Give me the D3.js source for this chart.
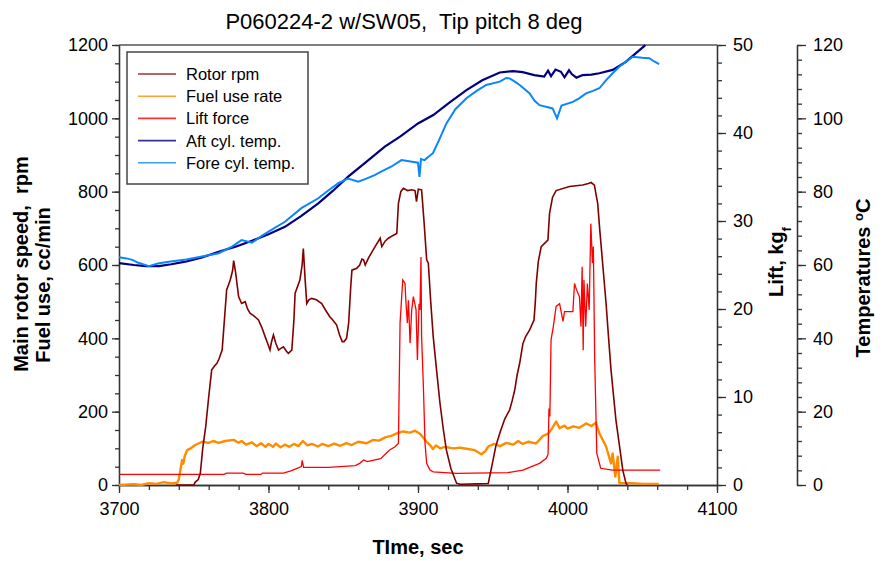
<!DOCTYPE html>
<html>
<head>
<meta charset="utf-8">
<script src="https://d3js.org/d3.v7.min.js"></script>
<style>
  body { margin: 0; background: #fff; }
  svg text { font-family: 'Liberation Sans', Arial, sans-serif; fill: #000; white-space: pre; }
</style>
</head>
<body>
<svg id="chart" width="887" height="561"></svg>
<script>
// tick values
const timeTicks = [3700, 3800, 3900, 4000, 4100]
const rpmTicks = [0, 200, 400, 600, 800, 1000, 1200]
const liftTicks = [0, 10, 20, 30, 40, 50]
const tempTicks = [0, 20, 40, 60, 80, 100, 120]

const seriesNames = ['Rotor rpm', 'Fuel use rate', 'Lift force', 'Aft cyl. temp.', 'Fore cyl. temp.']
const seriesColors = ['#800000', '#ff8c00', '#ff0000', '#000080', '#0a84ff']

// [time sec, rpm]
const rotorRpm = [
  [3738, 0], [3750, 0], [3751, 8], [3753, 15], [3754.4, 32], [3756, 100], [3758, 159], [3760, 240],
  [3762, 314], [3764, 325], [3765.5, 332], [3767, 345], [3769, 368], [3770.5, 450], [3772, 532],
  [3774.4, 559], [3776, 585], [3776.7, 612], [3778, 580], [3780, 514], [3782, 495], [3784.4, 500],
  [3786, 480], [3787.8, 468], [3790, 462], [3793.3, 450], [3795.5, 430], [3797.8, 404], [3799.5, 385],
  [3801, 368], [3802, 390], [3803.3, 409], [3805, 385], [3806.7, 368], [3808, 372], [3810, 377],
  [3812, 365], [3813.3, 359], [3815.6, 368], [3817, 450], [3817.8, 523], [3821, 559], [3822.5, 600],
  [3823.3, 645], [3824.5, 560], [3825.6, 495], [3827, 505], [3828.9, 509], [3832, 505], [3835.6, 495],
  [3838, 478], [3841, 459], [3843, 450], [3845.6, 436], [3847.5, 410], [3849.3, 391], [3850.5, 391],
  [3852.2, 400], [3853.6, 441], [3855, 540], [3855.8, 586], [3859, 591], [3861, 600], [3862.5, 616],
  [3863.6, 614], [3864.7, 600], [3867, 620], [3870, 641], [3872, 655], [3874.7, 673], [3875.8, 650],
  [3878, 665], [3880.2, 673], [3883, 680], [3885.8, 686], [3886.9, 768], [3888.5, 800], [3890.2, 809],
  [3893, 803], [3895.8, 805], [3898, 803], [3899, 773], [3900.2, 807], [3902.4, 805], [3904, 720],
  [3905.8, 614], [3906.9, 605], [3908.5, 500], [3910.2, 404], [3912.5, 310], [3914.7, 223], [3917, 150],
  [3919, 95], [3922, 45], [3925.8, 5], [3928, 2], [3940, 3], [3947, 4], [3950.2, 68], [3952, 105],
  [3954.7, 141], [3958, 180], [3961.3, 205], [3963, 230], [3964.7, 259], [3966.3, 300], [3968, 332],
  [3970.2, 386], [3972, 405], [3974.7, 423], [3977.6, 450], [3978.5, 500], [3979.1, 550], [3980.5, 610],
  [3982.4, 650], [3986.9, 668], [3988, 741], [3990, 785], [3992.4, 803], [4001.3, 814], [4010.2, 818],
  [4014, 822], [4015.8, 825], [4018, 818], [4019.2, 790], [4020.2, 768], [4021.5, 700], [4023.6, 600],
  [4025.8, 495], [4027.5, 400], [4029.1, 314], [4032.4, 177], [4035, 100], [4037, 40], [4039.1, 5], [4040, 0]
]

// [time sec, cc/min]
const fuelRate = [
  [3700, 0], [3710, 2], [3715, 0], [3720, 5], [3725, 3], [3730, 8], [3735, 4], [3739, 6], [3740, 15],
  [3742.2, 68], [3743, 58], [3744, 80], [3745.6, 95], [3748, 100], [3751, 109], [3755.6, 118], [3760, 115],
  [3763, 120], [3766.7, 115], [3771, 120], [3776.7, 123], [3780, 115], [3782, 120], [3785, 110],
  [3789, 116], [3792, 106], [3795, 114], [3798, 104], [3800, 112], [3803, 104], [3805, 113], [3808, 103],
  [3811, 110], [3814, 104], [3817, 112], [3820, 106], [3823, 120], [3826, 108], [3829, 112], [3833, 105],
  [3836, 112], [3840, 106], [3844, 113], [3848, 107], [3852, 114], [3855.6, 109], [3860, 118],
  [3865.6, 114], [3870, 123], [3874, 121], [3878, 130], [3882, 134], [3885.8, 141], [3890, 146],
  [3894.7, 143], [3898, 148], [3901.3, 140], [3905.8, 118], [3908, 109], [3910, 98], [3912, 108],
  [3914.7, 100], [3918, 104], [3923.6, 100], [3928, 102], [3932.4, 99], [3938, 95], [3942.4, 84],
  [3945, 92], [3947, 105], [3951, 112], [3955, 106], [3959, 115], [3963.6, 110], [3967, 120],
  [3970, 112], [3974, 118], [3979, 113], [3983.6, 134], [3987, 140], [3989, 150], [3992.4, 173],
  [3994.7, 155], [3998, 162], [4000, 154], [4004, 160], [4008, 156], [4012.4, 168], [4016, 161],
  [4019, 170], [4021.3, 141], [4025.8, 105], [4029.1, 59], [4030.2, 86], [4032, 23], [4033.6, 77],
  [4034.7, 5], [4043.6, 5], [4050, 3], [4061, 3]
]

// [time sec, kgf]
const liftForce = [
  [3700, 1.2], [3770, 1.2], [3772, 1.35], [3783, 1.35], [3785, 1.2], [3795, 1.2], [3796, 1.35],
  [3810, 1.35], [3815, 1.6], [3822, 2.1], [3822.5, 2.8], [3823.5, 2.0], [3840, 2.0], [3848, 2.08],
  [3858, 2.2], [3861, 2.46], [3863.6, 2.84], [3866, 2.65], [3875, 3.0], [3881, 3.98], [3884.7, 4.35],
  [3886.9, 4.73], [3888, 18.4], [3889.8, 23.3], [3891.3, 22.9], [3892, 20.6], [3892.9, 18.4],
  [3893.6, 21.0], [3894.7, 16.1], [3895.8, 19.9], [3896.9, 21.4], [3898.7, 19.9], [3899.6, 14.2],
  [3900.7, 20.6], [3901.3, 19.9], [3902, 25.9], [3902.4, 16.9], [3903.6, 11.2], [3904.7, 4.73],
  [3905.8, 2.46], [3908, 1.7], [3910.2, 1.5], [3925.8, 1.33], [3960, 1.4], [3970.2, 1.7], [3981.3, 2.46],
  [3985.8, 3.03], [3987, 3.5], [3987.6, 8.7], [3988.2, 7.8], [3989, 16.5], [3990.5, 18], [3992.4, 20.3],
  [3994.7, 20.6], [3997, 18.6], [3998, 19.7], [4003.6, 19.7], [4004.7, 22.9], [4006, 22.2], [4008, 21.4],
  [4009, 18.0], [4009.8, 24.8], [4010.5, 15.3], [4011, 23.3], [4012.2, 18.0], [4013.3, 22.9],
  [4014.5, 19.9], [4015.6, 29.7], [4016.7, 25.2], [4017.3, 27.1], [4018.2, 14.2], [4019.6, 3.6],
  [4022.2, 1.9], [4030.2, 1.7], [4062, 1.7]
]

// [time sec, deg C]
const aftTemp = [
  [3700, 60.5], [3710, 60], [3717.8, 59.7], [3726.7, 59.7], [3735, 60.2], [3744.4, 60.9], [3755, 62],
  [3766.7, 63.6], [3778, 65], [3788.9, 66.6], [3800, 68.4], [3811, 70.4], [3822, 73.4], [3833.3, 76.8],
  [3843, 80.2], [3853.3, 84.1], [3865, 88], [3877.8, 92.3], [3888, 95], [3900, 98.6], [3910.2, 100.9],
  [3921, 104.3], [3932.4, 107.7], [3943, 110.4], [3954.7, 112.5], [3963.6, 112.9], [3970, 112.6],
  [3977.8, 111.8], [3984.4, 111.4], [3987, 113], [3989, 111.5], [3992, 113.3], [3995.6, 112.7],
  [3998, 111.2], [4001, 113.1], [4003, 112], [4006, 111.1], [4010.2, 111.8], [4016, 111.9],
  [4021.3, 112.3], [4030.2, 113.2], [4039, 115.4], [4045, 117.5], [4051.3, 119.7], [4052, 120]
]

const foreTemp = [
  [3700, 62.1], [3705, 61.8], [3708.9, 61.4], [3713, 60.6], [3720, 59.7], [3726, 60.4], [3733.3, 60.9],
  [3745, 61.5], [3755.6, 62.3], [3766.7, 63.2], [3775.6, 65], [3782, 66.8], [3789, 66.1], [3795, 67.8],
  [3800, 69.1], [3811, 71.8], [3822, 75.5], [3833.3, 78.2], [3840, 80.3], [3846.7, 82.3], [3853.3, 83.6],
  [3860, 82.7], [3865, 83.5], [3871, 84.5], [3876, 85.6], [3882, 86.8], [3889, 88.6], [3895, 88.2],
  [3900, 87.9], [3901, 84], [3902, 88.9], [3904.4, 88.6], [3907, 89.5], [3910, 90.5], [3914, 94],
  [3919, 98.6], [3925, 102.5], [3932.4, 105.5], [3939, 107.4], [3945.6, 109.1], [3954.7, 110],
  [3959, 111], [3961.3, 110.9], [3964, 110.2], [3968, 109.1], [3974.7, 106.8], [3978, 104.8],
  [3981.3, 103.6], [3990, 102.7], [3993, 100], [3996, 103.5], [4003.6, 104.5], [4008, 105.5],
  [4012.4, 106.8], [4017, 107.5], [4021.3, 108.2], [4026, 110.5], [4030.2, 112.3], [4035, 114.2],
  [4039.1, 115.4], [4043.6, 116.8], [4050, 116.5], [4054.7, 116.4], [4058, 115.5], [4061.3, 114.8]
]

const plotLeft = 119, plotRight = 717, plotTop = 45, plotBottom = 485
const svg = d3.select('#chart')

const x = d3.scaleLinear().domain([3700, 4100]).range([plotLeft, plotRight])
const yRpm = d3.scaleLinear().domain([0, 1200]).range([plotBottom, plotTop])
const yLift = d3.scaleLinear().domain([0, 50]).range([plotBottom, plotTop])
const yTemp = d3.scaleLinear().domain([0, 120]).range([plotBottom, plotTop])

// frame top line
svg.append('line')
  .attr('x1', plotLeft).attr('x2', plotRight).attr('y1', plotTop).attr('y2', plotTop)
  .attr('stroke', '#555').attr('stroke-width', 1.5)

function styleAxis(g) {
  g.selectAll('path, line').attr('stroke', '#333').attr('stroke-width', 1.3)
  g.selectAll('text').style('font-size', '18px').attr('fill', '#000')
}

// bottom axis (minor + major)
svg.append('g').attr('transform', `translate(0,${plotBottom})`)
  .call(d3.axisBottom(x).tickValues(d3.range(3700, 4101, 20)).tickSize(5).tickFormat('').tickSizeOuter(0))
  .call(styleAxis)
svg.append('g').attr('transform', `translate(0,${plotBottom})`)
  .call(d3.axisBottom(x).tickValues(timeTicks).tickSize(8).tickPadding(9).tickFormat(d3.format('d')).tickSizeOuter(0))
  .call(styleAxis)

// left axis
svg.append('g').attr('transform', `translate(${plotLeft},0)`)
  .call(d3.axisLeft(yRpm).tickValues(d3.range(0, 1201, 50)).tickSize(4).tickFormat('').tickSizeOuter(0))
  .call(styleAxis)
svg.append('g').attr('transform', `translate(${plotLeft},0)`)
  .call(d3.axisLeft(yRpm).tickValues(rpmTicks).tickSize(7).tickPadding(4).tickFormat(d3.format('d')).tickSizeOuter(0))
  .call(styleAxis)

// lift axis
svg.append('g').attr('transform', `translate(${plotRight},0)`)
  .call(d3.axisRight(yLift).tickValues(d3.range(0, 51, 2)).tickSize(5).tickFormat('').tickSizeOuter(0))
  .call(styleAxis)
svg.append('g').attr('transform', `translate(${plotRight},0)`)
  .call(d3.axisRight(yLift).tickValues(liftTicks).tickSize(9).tickPadding(7).tickFormat(d3.format('d')).tickSizeOuter(0))
  .call(styleAxis)

// temperature axis
const tempX = 797
svg.append('g').attr('transform', `translate(${tempX},0)`)
  .call(d3.axisRight(yTemp).tickValues(d3.range(0, 121, 4)).tickSize(5).tickFormat('').tickSizeOuter(0))
  .call(styleAxis)
svg.append('g').attr('transform', `translate(${tempX},0)`)
  .call(d3.axisRight(yTemp).tickValues(tempTicks).tickSize(9).tickPadding(7).tickFormat(d3.format('d')).tickSizeOuter(0))
  .call(styleAxis)

// series
const plot = svg.append('g')
const mk = (yScale) => d3.line().x(d => x(d[0])).y(d => yScale(d[1]))

plot.append('path').datum(fuelRate).attr('d', mk(yRpm))
  .attr('fill', 'none').attr('stroke', seriesColors[1]).attr('stroke-width', 2.4).attr('stroke-linejoin', 'round')
plot.append('path').datum(liftForce).attr('d', mk(yLift))
  .attr('fill', 'none').attr('stroke', seriesColors[2]).attr('stroke-width', 1.3)
plot.append('path').datum(rotorRpm).attr('d', mk(yRpm))
  .attr('fill', 'none').attr('stroke', seriesColors[0]).attr('stroke-width', 1.6)
plot.append('path').datum(aftTemp).attr('d', mk(yTemp))
  .attr('fill', 'none').attr('stroke', seriesColors[3]).attr('stroke-width', 2.2)
plot.append('path').datum(foreTemp).attr('d', mk(yTemp))
  .attr('fill', 'none').attr('stroke', seriesColors[4]).attr('stroke-width', 2)

// legend
const legend = svg.append('g')
legend.append('rect').attr('x', 127).attr('y', 52).attr('width', 181).attr('height', 132)
  .attr('fill', '#fff').attr('stroke', '#444').attr('stroke-width', 1.5)
seriesNames.forEach((name, i) => {
  const ly = 74 + i * 22.2
  legend.append('line').attr('x1', 138).attr('x2', 176).attr('y1', ly).attr('y2', ly)
    .attr('stroke', seriesColors[i]).attr('stroke-width', 1.6).attr('opacity', 0.8)
  legend.append('text').attr('x', 186).attr('y', ly + 6).style('font-size', '16.5px').text(name)
})

// title + axis labels
svg.append('text').attr('x', 404).attr('y', 29).attr('text-anchor', 'middle')
  .style('font-size', '22px').text('P060224-2 w/SW05,  Tip pitch 8 deg')

svg.append('text').attr('x', 418).attr('y', 554).attr('text-anchor', 'middle')
  .style('font-size', '20px').style('font-weight', 'bold').text('TIme, sec')

svg.append('text').attr('transform', 'translate(28,264) rotate(-90)').attr('text-anchor', 'middle')
  .style('font-size', '20px').style('font-weight', 'bold').text('Main rotor speed,  rpm')
svg.append('text').attr('transform', 'translate(50,285) rotate(-90)').attr('text-anchor', 'middle')
  .style('font-size', '20px').style('font-weight', 'bold').text('Fuel use, cc/min')

const liftLabel = svg.append('text').attr('transform', 'translate(783,262) rotate(-90)').attr('text-anchor', 'middle')
  .style('font-size', '20px').style('font-weight', 'bold')
liftLabel.append('tspan').text('Lift, kg')
liftLabel.append('tspan').attr('baseline-shift', 'sub').style('font-size', '13px').text('f')

const tempLabel = svg.append('text').attr('transform', 'translate(870,278) rotate(-90)').attr('text-anchor', 'middle')
  .style('font-size', '20px').style('font-weight', 'bold')
tempLabel.append('tspan').text('Temperatures ')
tempLabel.append('tspan').attr('baseline-shift', 'super').style('font-size', '13px').text('o')
tempLabel.append('tspan').text('C')
</script>
</body>
</html>
